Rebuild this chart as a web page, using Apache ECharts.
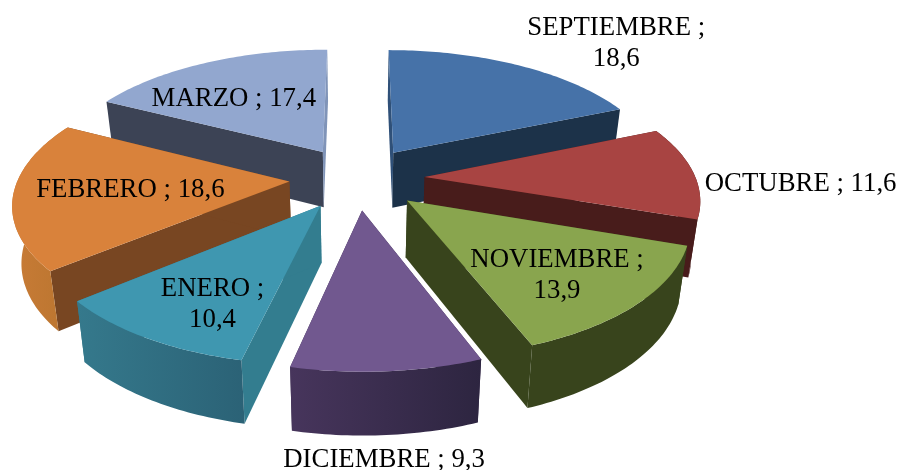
<!DOCTYPE html>
<html>
<head>
<meta charset="utf-8">
<title>Meses</title>
<style>
html, body { margin: 0; padding: 0; background: #fff; }
#chart { width: 899px; height: 470px; }
</style>
<script src="https://cdn.jsdelivr.net/npm/echarts@6/dist/echarts.min.js"></script>
</head>
<body>
<div id="chart"></div>
<script>
// datos
var months = ['SEPTIEMBRE', 'OCTUBRE', 'NOVIEMBRE', 'DICIEMBRE', 'ENERO', 'FEBRERO', 'MARZO'];
var shares = [18.6, 11.6, 13.9, 9.3, 10.4, 18.6, 17.4];

// estilos por porcion
var topColors = ['#4672a8', '#a84442', '#89a54e', '#71588f', '#3f97b0', '#d9823b', '#92a7cf'];
var cutStartColors = ['#2f5078', '#481c1b', '#38441c', '#3a2b4e', '#337d8f', '#784622', '#3c4355'];
var cutEndColors = ['#1c3249', '#481c1b', '#38441c', '#3a2b4e', '#337d8f', '#784622', '#8094b8'];
var wallFrom = ['#1c3249', '#481c1b', '#38441c', '#47355c', '#35798c', '#c87b36', '#3c4355'];
var wallTo = ['#1c3249', '#481c1b', '#38441c', '#2d2540', '#2b6276', '#b9752f', '#3c4355'];

// orden de pintado (de atras hacia adelante)
var paintOrder = [0, 2, 5, 6, 4, 3, 1];
// etiqueta relativa al vertice de cada porcion, y si va en dos lineas
var labelOffset = [[223, -109], [376, 7], [150, 75], [22, 249], [-108, 99], [-159, 8], [-89, -53]];
var labelBreak = [true, false, true, false, true, false, false];

// proyeccion del pastel 3D
var CX = 357, CY = 178, AX = 271, AY = 125.4, PERSP = 0.153, EXPLODE = 0.25;
var BOTTOM_X = 0.973, BOTTOM_Y = 1.04, BOTTOM_SHIFT = 49;

var total = shares.reduce(function (a, b) { return a + b; }, 0);

function project(rad, ang, midAng) {
    var X = rad * Math.sin(ang) + EXPLODE * Math.sin(midAng);
    var Y = rad * Math.cos(ang) + EXPLODE * Math.cos(midAng);
    var s = 1 / (1 + PERSP * Y);
    return [CX + AX * X * s, CY - AY * Y * s];
}

function lower(p) {
    return [CX + (p[0] - CX) * BOTTOM_X, p[1] * BOTTOM_Y + BOTTOM_SHIFT];
}

function poly(points, fill, z2) {
    return { type: 'polygon', shape: { points: points }, style: { fill: fill }, z2: z2, silent: true };
}

function renderSlice(params, api) {
    var i = params.dataIndex;
    var before = 0;
    for (var k = 0; k < i; k++) before += shares[k];
    var a0 = before / total * Math.PI * 2;
    var a1 = (before + api.value(0)) / total * Math.PI * 2;
    var mid = (a0 + a1) / 2;

    var apex = project(0, 0, mid);
    var arc = [];
    var steps = Math.ceil((a1 - a0) / Math.PI * 180);
    for (var n = 0; n <= steps; n++) {
        arc.push(project(1, a0 + (a1 - a0) * n / steps, mid));
    }
    var arcLow = arc.map(lower);
    var apexLow = lower(apex);
    var first = arc[0], last = arc[arc.length - 1];
    var base = (paintOrder[i] + 1) * 10;

    var text = months[i] + ' ;' + (labelBreak[i] ? '\n' : ' ') + String(api.value(0)).replace('.', ',');

    var children = [
        poly([apex, first, lower(first), apexLow], cutStartColors[i], base),
        poly([apex, last, lower(last), apexLow], cutEndColors[i], base + 1),
        poly([apex].concat(arc), topColors[i], base + 3),
        {
            type: 'text',
            z2: 500,
            silent: true,
            style: {
                text: text,
                x: apex[0] + labelOffset[i][0],
                y: apex[1] + labelOffset[i][1],
                align: 'center',
                verticalAlign: 'middle',
                fill: '#000',
                fontFamily: 'Liberation Serif',
                fontSize: 26.8,
                lineHeight: 31
            }
        }
    ];

    // las porciones del fondo no muestran la pared curva
    if (Math.cos(mid) <= 0.3) {
        var wallFill = new echarts.graphic.LinearGradient(0, 0, 1, 0, [
            { offset: 0, color: wallFrom[i] },
            { offset: 1, color: wallTo[i] }
        ]);
        children.push(poly(arc.concat(arcLow.slice().reverse()), wallFill, base + 2));
    }

    return { type: 'group', children: children };
}

var chart = echarts.init(document.getElementById('chart'), null, { renderer: 'canvas' });
chart.setOption({
    animation: false,
    backgroundColor: '#fff',
    series: [{
        type: 'custom',
        coordinateSystem: 'none',
        renderItem: renderSlice,
        data: shares.map(function (v) { return [v]; })
    }]
});
</script>
</body>
</html>
